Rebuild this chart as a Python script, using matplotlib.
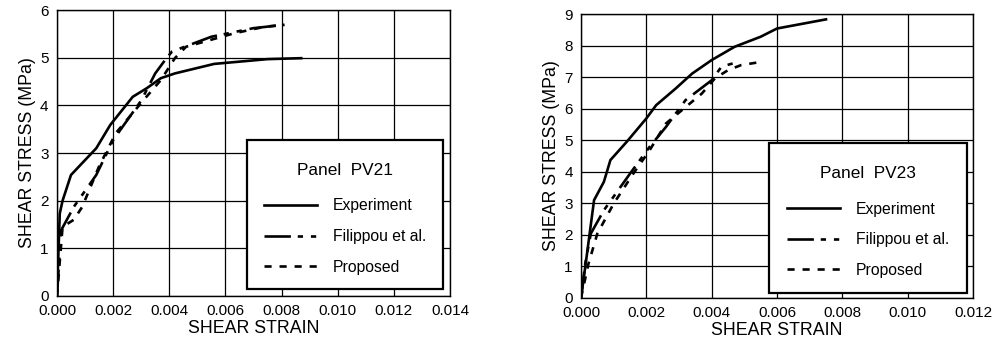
import numpy as np
import matplotlib
matplotlib.use('Agg')
import matplotlib.pyplot as plt
from matplotlib.patches import Rectangle

plt.rcParams['font.family'] = ['Liberation Sans', 'DejaVu Sans']

# Panel PV21 (strain, stress MPa)
pv21_exp_x = [0.0, 0.0001, 0.0002, 0.0005, 0.0014, 0.0019, 0.0027, 0.0032, 0.0037, 0.0042, 0.0056, 0.0075, 0.0087]
pv21_exp_y = [0.0, 1.73, 2.0, 2.54, 3.1, 3.59, 4.18, 4.36, 4.57, 4.67, 4.87, 4.97, 4.99]
pv21_fil_x = [0.0, 0.00015, 0.0006, 0.0014, 0.002, 0.003, 0.0035, 0.0039, 0.0041, 0.0055, 0.007, 0.0081]
pv21_fil_y = [0.0, 1.38, 1.87, 2.54, 3.27, 4.1, 4.67, 4.99, 5.13, 5.44, 5.62, 5.69]
pv21_pro_x = [0.0, 0.0002, 0.0006, 0.0009, 0.0015, 0.0021, 0.0031, 0.0037, 0.0042, 0.0046, 0.0063, 0.0074, 0.0081]
pv21_pro_y = [0.0, 1.45, 1.6, 1.87, 2.72, 3.42, 4.12, 4.53, 4.99, 5.23, 5.51, 5.65, 5.69]

# Panel PV23
pv23_exp_x = [0.0, 0.00013, 0.0004, 0.0007, 0.0009, 0.0014, 0.002, 0.0023, 0.0029, 0.0034, 0.004, 0.0047, 0.0055, 0.006, 0.0075]
pv23_exp_y = [0.0, 0.98, 3.1, 3.68, 4.37, 4.95, 5.69, 6.11, 6.64, 7.11, 7.54, 7.96, 8.28, 8.54, 8.83]
pv23_fil_x = [0.0, 0.00013, 0.0003, 0.0007, 0.0015, 0.0021, 0.0026, 0.0032, 0.004, 0.0043, 0.0048]
pv23_fil_y = [0.0, 1.09, 2.04, 2.78, 3.94, 4.79, 5.42, 6.27, 6.9, 7.33, 7.48]
pv23_pro_x = [0.0, 0.00023, 0.0005, 0.001, 0.0016, 0.0021, 0.0026, 0.0037, 0.0041, 0.0045, 0.0049, 0.0055]
pv23_pro_y = [0.0, 1.09, 2.04, 2.99, 3.94, 4.68, 5.53, 6.48, 6.96, 7.22, 7.38, 7.48]

labels = ['Experiment', 'Filippou et al.', 'Proposed']

fig = plt.figure(figsize=(9.94, 3.5), dpi=100)
ax1 = fig.add_axes([0.0573, 0.1543, 0.3954, 0.817])
ax2 = fig.add_axes([0.5845, 0.1486, 0.3944, 0.8114])


def draw_panel(ax, data, xmax, ymax, title, box):
    lw = 1.9
    ax.plot(data[0], data[1], color='k', lw=lw, label=labels[0])
    ax.plot(data[2], data[3], color='k', lw=lw, dashes=(10, 2.6, 2, 3, 2, 3), label=labels[1])
    ax.plot(data[4], data[5], color='k', lw=lw, dashes=(2.7, 3.0), label=labels[2])
    ax.set_xlim(0, xmax)
    ax.set_ylim(0, ymax)
    ax.set_xticks(np.arange(0, xmax + 1e-9, 0.002))
    ax.set_yticks(np.arange(0, ymax + 1))
    ax.set_xticklabels(['%.3f' % v for v in np.arange(0, xmax + 1e-9, 0.002)])
    ax.grid(True, color='k', lw=0.9)
    ax.set_axisbelow(True)
    ax.tick_params(length=0, labelsize=11, pad=6)
    for s in ax.spines.values():
        s.set_linewidth(1.0)
    ax.set_xlabel('SHEAR STRAIN', fontsize=12.8, labelpad=1)
    ax.set_ylabel('SHEAR STRESS (MPa)', fontsize=12.8, labelpad=3)
    rect = Rectangle((box[0], box[1]), box[2], box[3], transform=ax.transAxes,
                     facecolor='white', edgecolor='k', lw=1.6, zorder=5)
    ax.add_patch(rect)
    # legend centred slightly below the box centre, as in the original
    leg = ax.legend(loc='center', bbox_to_anchor=(box[0], box[1] - 0.014, box[2], box[3]),
                    frameon=False, fontsize=11.3, title=title, title_fontsize=12.4,
                    handlelength=3.4, handletextpad=1.0, labelspacing=1.0)
    leg.set_zorder(6)
    leg._legend_box.sep = 15


draw_panel(ax1, [pv21_exp_x, pv21_exp_y, pv21_fil_x, pv21_fil_y, pv21_pro_x, pv21_pro_y],
           0.014, 6, 'Panel  PV21', (0.483, 0.024, 0.499, 0.521))
draw_panel(ax2, [pv23_exp_x, pv23_exp_y, pv23_fil_x, pv23_fil_y, pv23_pro_x, pv23_pro_y],
           0.012, 9, 'Panel  PV23', (0.480, 0.018, 0.505, 0.528))

fig.savefig('out.png', dpi=100)
